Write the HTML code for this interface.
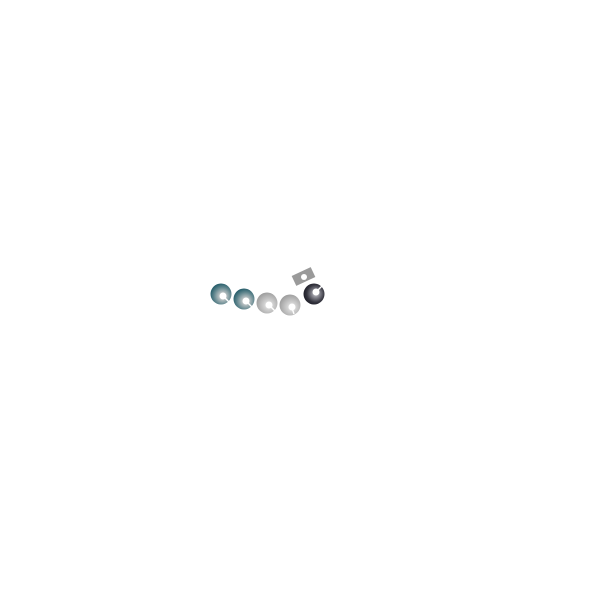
<!DOCTYPE html>
<html><head><meta charset="utf-8"><style>html,body{margin:0;background:#fff}</style></head>
<body>
<svg width="600" height="600" viewBox="0 0 600 600" xmlns="http://www.w3.org/2000/svg">
<defs>
<radialGradient id="t" cx="0.58" cy="0.6" r="0.6"><stop offset="0" stop-color="#e8eaea"/><stop offset="0.3" stop-color="#b5bec0"/><stop offset="0.7" stop-color="#5f858d"/><stop offset="1" stop-color="#285f6c"/></radialGradient>
<radialGradient id="g" cx="0.58" cy="0.6" r="0.6"><stop offset="0" stop-color="#efefef"/><stop offset="0.4" stop-color="#cdcdcd"/><stop offset="1" stop-color="#9f9f9f"/></radialGradient>
<radialGradient id="d" cx="0.58" cy="0.48" r="0.6"><stop offset="0" stop-color="#d0d0d4"/><stop offset="0.3" stop-color="#8a8a93"/><stop offset="0.7" stop-color="#35353f"/><stop offset="1" stop-color="#1a1a24"/></radialGradient>
</defs>
<circle cx="221" cy="294" r="10.5" fill="url(#t)"/><circle cx="223" cy="296" r="3.5" fill="#fff"/><line x1="224" y1="297" x2="229" y2="302" stroke="#fff" stroke-width="1.4"/>
<circle cx="244" cy="299" r="10.5" fill="url(#t)"/><circle cx="246" cy="301" r="3.5" fill="#fff"/><line x1="247" y1="302" x2="252" y2="307" stroke="#fff" stroke-width="1.4"/>
<circle cx="267" cy="303" r="10.5" fill="url(#g)"/><circle cx="269" cy="305" r="3.5" fill="#fff"/><line x1="270" y1="306" x2="275" y2="311" stroke="#fff" stroke-width="1.4"/>
<circle cx="290" cy="305" r="10.5" fill="url(#g)"/><circle cx="292" cy="307" r="3.5" fill="#fff"/><line x1="292" y1="308" x2="294" y2="314" stroke="#fff" stroke-width="1.4"/>
<rect x="293" y="271" width="21" height="11" fill="#9a9a9a" transform="rotate(-25 303.5 276.5)"/><circle cx="304" cy="277" r="3" fill="#fff"/>
<circle cx="314" cy="294" r="10.5" fill="url(#d)"/><circle cx="316" cy="292" r="3.5" fill="#fff"/><line x1="317" y1="291" x2="322" y2="286" stroke="#fff" stroke-width="1.4"/>
</svg>
</body></html>
